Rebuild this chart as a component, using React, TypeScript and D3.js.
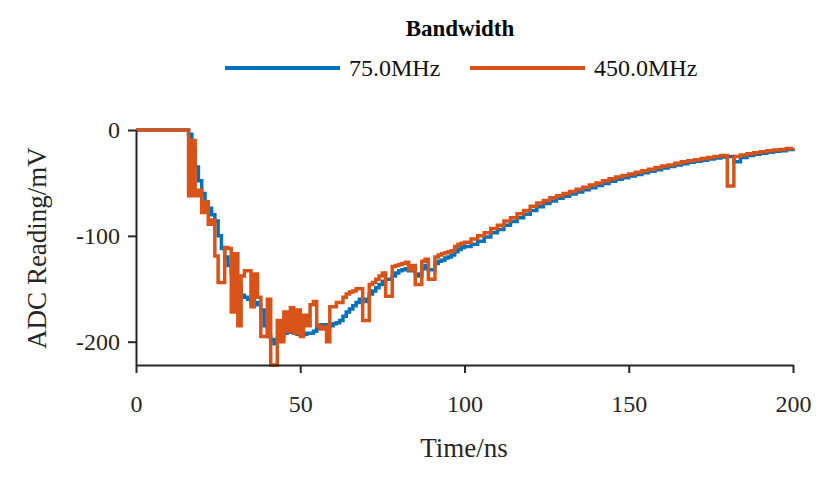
import { useEffect, useRef } from "react";
import { select, scaleLinear, axisBottom, axisLeft, line, curveStepAfter } from "d3";

// sample times (ns)
const times = [
  0,
  16, 17, 18, 19, 20, 21, 22, 23, 24, 25,
  26, 27, 28, 29, 30, 31, 32, 33, 34, 35,
  36, 37, 38, 39, 40, 41, 42, 43, 44, 45,
  46, 47, 48, 49, 50, 51, 52, 53, 54, 55,
  56, 57, 58, 59, 60, 61, 62, 63, 64, 65,
  66, 67, 68, 69, 70, 71, 72, 73, 74, 75,
  76, 77, 78, 79, 80, 81, 82, 83, 84, 85,
  86, 87, 88, 89, 90, 91, 92, 93, 94, 95,
  96, 97, 98, 99, 100,
  102, 104, 106, 108, 110, 112, 114, 116, 118, 120,
  122, 124, 126, 128, 130, 132, 134, 136, 138, 140,
  142, 144, 146, 148, 150, 152, 154, 156, 158, 160,
  162, 164, 166, 168, 170, 172, 174, 176, 178, 180,
  182, 184, 186, 188, 190, 192, 194, 196, 198, 200,
];

// ADC reading (mV), 75.0 MHz bandwidth
const bw75 = [
  0,
  -4, -20, -35, -48, -60, -68, -74, -80, -86, -100,
  -112, -120, -128, -135, -142, -148, -156, -158, -160, -162,
  -163, -165, -170, -185, -195, -198, -202, -198, -195, -192,
  -191, -191, -192, -193, -193, -193, -192, -192, -190, -187,
  -184, -184, -186, -185, -183, -182, -180, -176, -172, -169,
  -166, -163, -160, -160, -162, -155, -152, -149, -146, -143,
  -141, -141, -138, -135, -133, -132, -131, -133, -133, -136,
  -138, -131, -128, -132, -132, -126, -124, -123, -121, -120,
  -118, -115, -113, -111, -110,
  -108, -105, -101, -97, -94, -90, -86.5, -83, -79.5, -76,
  -72.5, -69.5, -67, -64.5, -62.5, -60.5, -58.5, -56.5, -54.5, -52.5,
  -50.5, -48.5, -46.5, -45, -43.5, -42, -40.5, -39, -37.5, -36,
  -34.5, -33, -32, -30.5, -29.5, -28.5, -27.5, -26.5, -25.5, -25,
  -30, -26, -24, -23, -22, -21, -20, -19.5, -18.5, -18,
];

// ADC reading (mV), 450.0 MHz bandwidth
const bw450 = [
  0,
  -62, -10, -62, -57, -78, -68, -89, -85, -119, -144,
  -144, -111, -112, -172, -117, -185, -138, -133, -133, -167,
  -136, -158, -195, -195, -160, -222, -222, -180, -200, -172,
  -190, -168, -192, -170, -195, -175, -185, -165, -162, -185,
  -188, -186, -200, -167, -167, -163, -163, -158, -155, -153,
  -152, -150, -150, -180, -180, -146, -144, -141, -138, -135,
  -157, -157, -129, -128, -127, -126, -125, -132, -128, -146,
  -146, -124, -122, -141, -141, -120, -118, -117, -116, -115,
  -114, -110, -108, -107, -106,
  -103, -100, -97, -93, -90, -86, -83, -79, -76, -72,
  -69, -66.5, -64, -62, -60, -58, -56, -54, -52, -50,
  -48, -46, -44.5, -43, -41.5, -40, -38.5, -37, -35.5, -34,
  -33, -31.5, -30, -29, -28, -27, -26, -25, -24, -53,
  -25, -23.5, -22.5, -21.5, -20.5, -19.5, -19, -18.5, -17.5, -17,
];

const xTicks = [0, 50, 100, 150, 200];
const yTicks = [0, -100, -200];
const seriesNames = ["75.0MHz", "450.0MHz"];
const seriesColors = ["#0072BD", "#D95319"];

const W = 830;
const H = 478;
const FONT = "'Liberation Serif', 'DejaVu Serif', serif";
const AXIS = "#262626";

export default function App() {
  const svgRef = useRef<SVGSVGElement>(null);

  useEffect(() => {
    const svg = select(svgRef.current);
    svg.selectAll("*").remove();

    const x = scaleLinear().domain([0, 200]).range([136, 793]);
    const y = scaleLinear().domain([-222, 0]).range([365, 130]);

    const lineFn = line<number>()
      .x((_, i) => x(times[i]))
      .y((d) => y(d))
      .curve(curveStepAfter);

    [bw75, bw450].forEach((s, k) => {
      svg
        .append("path")
        .datum(s)
        .attr("fill", "none")
        .attr("stroke", seriesColors[k])
        .attr("stroke-width", 3.5)
        .attr("stroke-linejoin", "miter")
        .attr("d", lineFn);
    });

    svg
      .append("g")
      .attr("transform", `translate(0,${y(-222)})`)
      .call(
        axisBottom(x)
          .tickValues(xTicks)
          .tickFormat((d) => String(d))
          .tickSize(8)
          .tickPadding(22)
          .tickSizeOuter(0),
      )
      .call((g) => g.select(".domain").attr("stroke", AXIS).attr("stroke-width", 2))
      .call((g) => g.selectAll(".tick line").attr("stroke", AXIS).attr("stroke-width", 2))
      .call((g) =>
        g
          .selectAll(".tick text")
          .attr("fill", AXIS)
          .attr("font-size", 24)
          .attr("font-family", FONT),
      );

    svg
      .append("g")
      .attr("transform", `translate(${x(0)},0)`)
      .call(
        axisLeft(y)
          .tickValues(yTicks)
          .tickFormat((d) => String(d))
          .tickSize(8)
          .tickPadding(8)
          .tickSizeOuter(0),
      )
      .call((g) => g.select(".domain").attr("stroke", AXIS).attr("stroke-width", 2))
      .call((g) => g.selectAll(".tick line").attr("stroke", AXIS).attr("stroke-width", 2))
      .call((g) =>
        g
          .selectAll(".tick text")
          .attr("fill", AXIS)
          .attr("font-size", 24)
          .attr("font-family", FONT),
      );

    svg
      .append("text")
      .attr("x", 464)
      .attr("y", 457)
      .attr("text-anchor", "middle")
      .attr("font-family", FONT)
      .attr("font-size", 27)
      .attr("fill", AXIS)
      .text("Time/ns");

    svg
      .append("text")
      .attr("transform", `translate(46,248) rotate(-90)`)
      .attr("text-anchor", "middle")
      .attr("font-family", FONT)
      .attr("font-size", 27)
      .attr("fill", AXIS)
      .text("ADC Reading/mV");

    // legend
    svg
      .append("text")
      .attr("x", 460)
      .attr("y", 36)
      .attr("text-anchor", "middle")
      .attr("font-family", FONT)
      .attr("font-weight", "bold")
      .attr("font-size", 23)
      .attr("fill", "#000")
      .text("Bandwidth");

    const legendX = [225, 470];
    seriesNames.forEach((name, k) => {
      svg
        .append("line")
        .attr("x1", legendX[k])
        .attr("x2", legendX[k] + 115)
        .attr("y1", 68)
        .attr("y2", 68)
        .attr("stroke", seriesColors[k])
        .attr("stroke-width", 4);
      svg
        .append("text")
        .attr("x", legendX[k] + 124)
        .attr("y", 76)
        .attr("font-family", FONT)
        .attr("font-size", 24)
        .attr("fill", "#111")
        .text(name);
    });
  }, []);

  return (
    <div style={{ position: "absolute", left: 0, top: 0, background: "#fff" }}>
      <svg ref={svgRef} width={W} height={H} style={{ display: "block" }} />
    </div>
  );
}
